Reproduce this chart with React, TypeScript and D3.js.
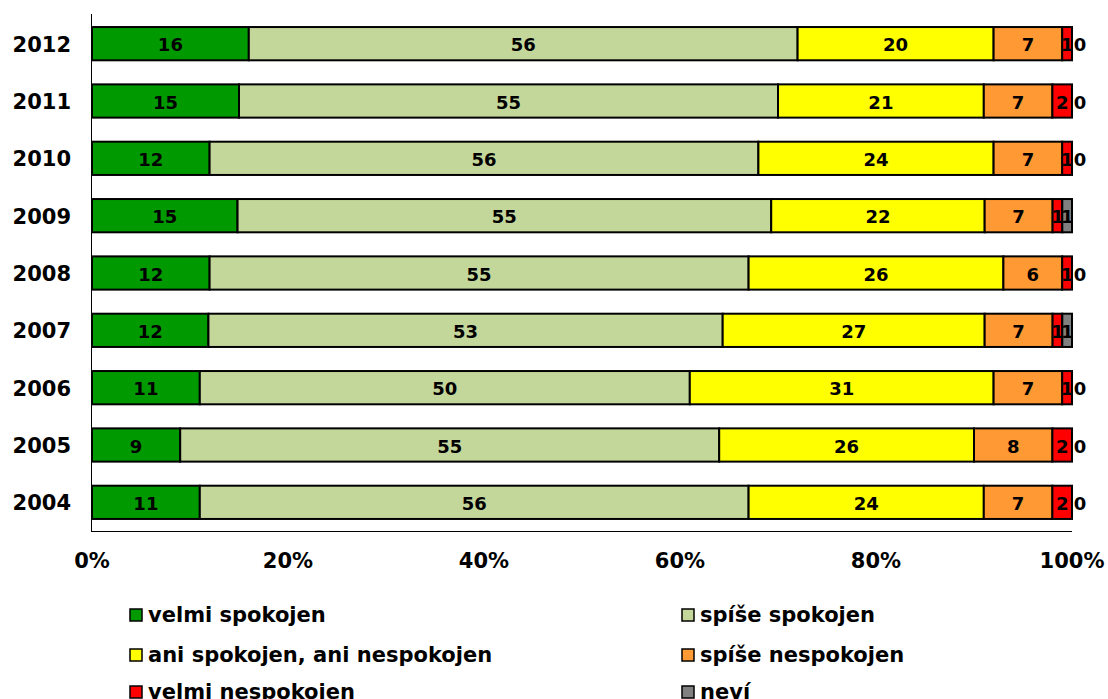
import React, { useEffect, useRef } from "react";
import * as d3 from "d3";

const years = ["2012", "2011", "2010", "2009", "2008", "2007", "2006", "2005", "2004"];
const seriesNames = [
  "velmi spokojen",
  "spíše spokojen",
  "ani spokojen, ani nespokojen",
  "spíše nespokojen",
  "velmi nespokojen",
  "neví",
];
const colors = ["#009900", "#c4d79b", "#ffff00", "#ff9933", "#ff0000", "#808080"];

const velmiSpokojen = [16, 15, 12, 15, 12, 12, 11, 9, 11];
const spiseSpokojen = [56, 55, 56, 55, 55, 53, 50, 55, 56];
const aniAni = [20, 21, 24, 22, 26, 27, 31, 26, 24];
const spiseNespokojen = [7, 7, 7, 7, 6, 7, 7, 8, 7];
const velmiNespokojen = [1, 2, 1, 1, 1, 1, 1, 2, 2];
const nevi = [0, 0, 0, 1, 0, 1, 0, 0, 0];
const series = [velmiSpokojen, spiseSpokojen, aniAni, spiseNespokojen, velmiNespokojen, nevi];

const ticks = [0, 0.2, 0.4, 0.6, 0.8, 1];
const FONT = "'DejaVu Sans', Verdana, sans-serif";

export default function App() {
  const ref = useRef<SVGSVGElement>(null);

  useEffect(() => {
    const svg = d3.select(ref.current);
    svg.selectAll("*").remove();

    const x = d3.scaleLinear().domain([0, 1]).range([92, 1072]);
    const y = d3.scaleBand().domain(years).range([15, 531]).paddingInner(0.42).paddingOuter(0.21);

    // bars
    years.forEach((yr, i) => {
      const vals = series.map((s) => s[i]);
      const total = d3.sum(vals);
      let cum = 0;
      const g = svg.append("g");
      vals.forEach((v, k) => {
        const x0 = x(cum / total);
        cum += v;
        const x1 = x(cum / total);
        if (v > 0) {
          g.append("rect")
            .attr("x", x0)
            .attr("y", y(yr)!)
            .attr("width", x1 - x0)
            .attr("height", y.bandwidth())
            .attr("fill", colors[k])
            .attr("stroke", "#000")
            .attr("stroke-width", 2);
        }
      });
      cum = 0;
      vals.forEach((v, k) => {
        const x0 = x(cum / total);
        cum += v;
        const x1 = x(cum / total);
        const cx = v > 0 ? (x0 + x1) / 2 : x1 + 8;
        g.append("text")
          .attr("x", cx)
          .attr("y", y(yr)! + y.bandwidth() / 2 + 1)
          .attr("text-anchor", "middle")
          .attr("dominant-baseline", "central")
          .attr("font-family", FONT)
          .attr("font-weight", "bold")
          .attr("font-size", 18)
          .attr("fill", "#000")
          .text(v);
      });
    });

    // axes
    svg.append("line")
      .attr("x1", 91.5).attr("x2", 91.5).attr("y1", 14).attr("y2", 531)
      .attr("stroke", "#000");
    svg.append("line")
      .attr("x1", 91).attr("x2", 1072).attr("y1", 531.5).attr("y2", 531.5)
      .attr("stroke", "#000");

    svg.selectAll(".ylab")
      .data(years)
      .enter()
      .append("text")
      .attr("x", 71)
      .attr("y", (d) => y(d)! + y.bandwidth() / 2 + 1)
      .attr("text-anchor", "end")
      .attr("dominant-baseline", "central")
      .attr("font-family", FONT)
      .attr("font-weight", "bold")
      .attr("font-size", 21)
      .text((d) => d);

    svg.selectAll(".xlab")
      .data(ticks)
      .enter()
      .append("text")
      .attr("x", (d) => x(d))
      .attr("y", 561)
      .attr("text-anchor", "middle")
      .attr("dominant-baseline", "central")
      .attr("font-family", FONT)
      .attr("font-weight", "bold")
      .attr("font-size", 21)
      .text((d) => d3.format(".0%")(d));

    // legend
    const legX = [130, 682];
    const legY = [615, 655, 692];
    seriesNames.forEach((name, k) => {
      const lx = legX[k % 2];
      const ly = legY[Math.floor(k / 2)];
      svg.append("rect")
        .attr("x", lx).attr("y", ly - 6)
        .attr("width", 12).attr("height", 12)
        .attr("fill", colors[k])
        .attr("stroke", "#000")
        .attr("stroke-width", 1.5);
      svg.append("text")
        .attr("x", lx + 18)
        .attr("y", ly)
        .attr("dominant-baseline", "central")
        .attr("font-family", FONT)
        .attr("font-weight", "bold")
        .attr("font-size", 21)
        .text(name);
    });
  }, []);

  return (
    <svg
      ref={ref}
      width={1108}
      height={699}
      style={{ position: "absolute", left: 0, top: 0, background: "#fff" }}
    />
  );
}
